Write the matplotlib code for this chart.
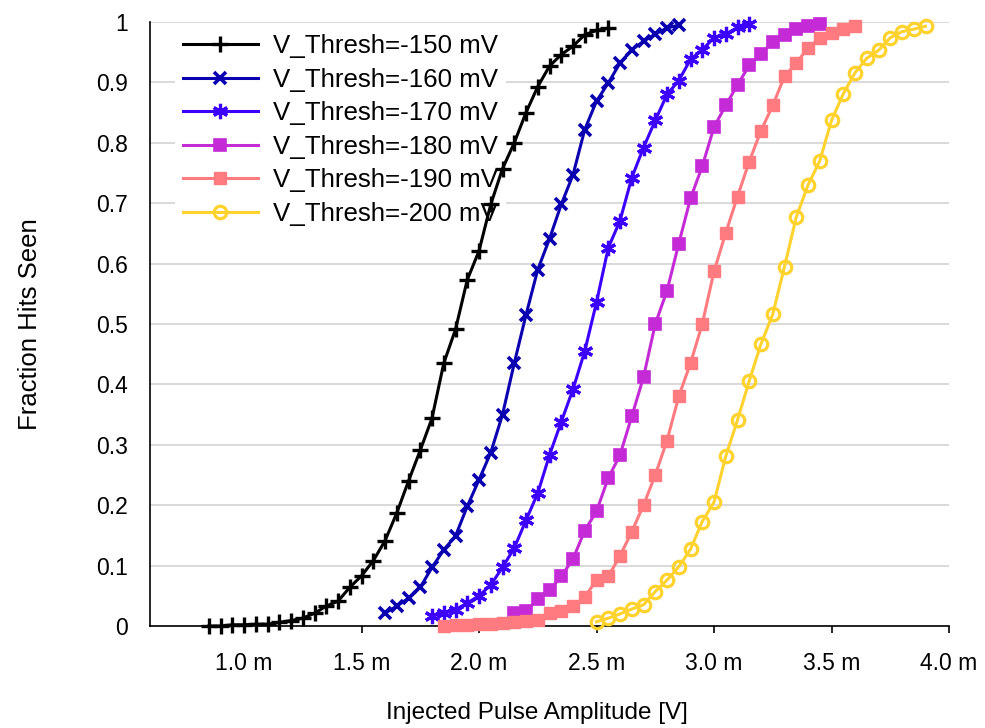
import matplotlib
matplotlib.use("Agg")
import matplotlib.pyplot as plt
from matplotlib.ticker import FuncFormatter

plt.rcParams['font.family'] = ['Liberation Sans', 'DejaVu Sans']

# ---- data (x in mV of injected amplitude, y = fraction of hits seen) ----
labels = ["V_Thresh=-150 mV", "V_Thresh=-160 mV", "V_Thresh=-170 mV",
          "V_Thresh=-180 mV", "V_Thresh=-190 mV", "V_Thresh=-200 mV"]

x150 = [0.85, 0.90, 0.95, 1.00, 1.05, 1.10, 1.15, 1.20, 1.25, 1.30, 1.35, 1.40,
        1.45, 1.50, 1.55, 1.60, 1.65, 1.70, 1.75, 1.80, 1.85, 1.90, 1.95, 2.00,
        2.05, 2.10, 2.15, 2.20, 2.25, 2.30, 2.35, 2.40, 2.45, 2.50, 2.55]
y150 = [0.000, 0.000, 0.002, 0.002, 0.003, 0.003, 0.006, 0.009, 0.013, 0.021,
        0.033, 0.041, 0.064, 0.083, 0.108, 0.141, 0.187, 0.240, 0.291, 0.344,
        0.435, 0.491, 0.573, 0.621, 0.698, 0.757, 0.800, 0.850, 0.893, 0.927,
        0.946, 0.960, 0.979, 0.986, 0.990]

x160 = [1.60, 1.65, 1.70, 1.75, 1.80, 1.85, 1.90, 1.95, 2.00, 2.05, 2.10, 2.15,
        2.20, 2.25, 2.30, 2.35, 2.40, 2.45, 2.50, 2.55, 2.60, 2.65, 2.70, 2.75,
        2.80, 2.85]
y160 = [0.021, 0.033, 0.046, 0.064, 0.097, 0.126, 0.149, 0.198, 0.242, 0.287,
        0.350, 0.435, 0.515, 0.590, 0.641, 0.698, 0.747, 0.822, 0.869, 0.899,
        0.932, 0.954, 0.968, 0.980, 0.990, 0.995]

x170 = [1.80, 1.85, 1.90, 1.95, 2.00, 2.05, 2.10, 2.15, 2.20, 2.25, 2.30, 2.35,
        2.40, 2.45, 2.50, 2.55, 2.60, 2.65, 2.70, 2.75, 2.80, 2.85, 2.90, 2.95,
        3.00, 3.05, 3.10, 3.15]
y170 = [0.017, 0.021, 0.027, 0.038, 0.050, 0.068, 0.097, 0.129, 0.175, 0.220,
        0.283, 0.338, 0.392, 0.455, 0.536, 0.626, 0.671, 0.742, 0.792, 0.837,
        0.880, 0.903, 0.938, 0.954, 0.974, 0.980, 0.991, 0.996]

x180 = [2.15, 2.20, 2.25, 2.30, 2.35, 2.40, 2.45, 2.50, 2.55, 2.60, 2.65, 2.70,
        2.75, 2.80, 2.85, 2.90, 2.95, 3.00, 3.05, 3.10, 3.15, 3.20, 3.25, 3.30,
        3.35, 3.40, 3.45]
y180 = [0.022, 0.025, 0.044, 0.059, 0.082, 0.111, 0.158, 0.190, 0.245, 0.283,
        0.347, 0.412, 0.500, 0.555, 0.633, 0.708, 0.761, 0.826, 0.862, 0.896,
        0.928, 0.947, 0.967, 0.978, 0.989, 0.993, 0.997]

x190 = [1.85, 1.90, 1.95, 2.00, 2.05, 2.10, 2.15, 2.20, 2.25, 2.30, 2.35, 2.40,
        2.45, 2.50, 2.55, 2.60, 2.65, 2.70, 2.75, 2.80, 2.85, 2.90, 2.95, 3.00,
        3.05, 3.10, 3.15, 3.20, 3.25, 3.30, 3.35, 3.40, 3.45, 3.50, 3.55, 3.60]
y190 = [0.000, 0.001, 0.002, 0.003, 0.004, 0.005, 0.006, 0.008, 0.010, 0.021,
        0.025, 0.033, 0.048, 0.076, 0.082, 0.116, 0.156, 0.200, 0.250, 0.307,
        0.380, 0.435, 0.500, 0.587, 0.651, 0.711, 0.769, 0.820, 0.862, 0.910,
        0.932, 0.957, 0.973, 0.982, 0.988, 0.993]

x200 = [2.50, 2.55, 2.60, 2.65, 2.70, 2.75, 2.80, 2.85, 2.90, 2.95, 3.00, 3.05,
        3.10, 3.15, 3.20, 3.25, 3.30, 3.35, 3.40, 3.45, 3.50, 3.55, 3.60, 3.65,
        3.70, 3.75, 3.80, 3.85, 3.90]
y200 = [0.007, 0.013, 0.020, 0.028, 0.035, 0.057, 0.076, 0.098, 0.127, 0.173,
        0.205, 0.281, 0.341, 0.406, 0.467, 0.516, 0.595, 0.677, 0.730, 0.770,
        0.837, 0.881, 0.916, 0.940, 0.953, 0.974, 0.984, 0.988, 0.993]

xs = [x150, x160, x170, x180, x190, x200]
ys = [y150, y160, y170, y180, y190, y200]

x_ticks_mV = [1.0, 1.5, 2.0, 2.5, 3.0, 3.5, 4.0]
y_ticks = [0, 0.1, 0.2, 0.3, 0.4, 0.5, 0.6, 0.7, 0.8, 0.9, 1]

# ---- styles ----
colors = ['#000000', '#0a00b0', '#3c00ff', '#c42bd6', '#ff7b80', '#ffd22e']
styles = [
    dict(marker='+', ms=11, mew=2.4),
    dict(marker='x', ms=8, mew=2.6),
    dict(marker=(6, 2, 0), ms=11, mew=2.3),
    dict(marker='s', ms=8, mew=1.2),
    dict(marker='s', ms=8.5, mew=1.0),
    dict(marker='o', ms=9, mew=2.3, mfc='none'),
]

fig = plt.figure(figsize=(9.85, 7.28), dpi=100)
ax = fig.add_axes([150/985, 1 - 626/728, 799/985, 604/728])

for xv, yv, c, st, lab in zip(xs, ys, colors, styles, labels):
    xv_V = [v * 1e-3 for v in xv]
    kw = dict(st)
    if 'mfc' not in kw:
        kw['mfc'] = c
    ax.plot(xv_V, yv, color=c, lw=2.2, mec=c, label=lab, zorder=3,
            clip_on=False, **kw)

ax.set_xlim(0.6e-3, 4.0e-3)
ax.set_ylim(0, 1)
ax.set_xticks([v * 1e-3 for v in x_ticks_mV])
ax.xaxis.set_major_formatter(FuncFormatter(lambda v, p: f"{v*1e3:.1f} m"))
ax.set_yticks(y_ticks)
ax.yaxis.set_major_formatter(FuncFormatter(lambda v, p: f"{v:g}"))

ax.spines['top'].set_visible(False)
ax.spines['right'].set_visible(False)
ax.spines['left'].set_linewidth(1.2)
ax.spines['bottom'].set_linewidth(1.2)
ax.grid(axis='y', color='#d9d9d9', lw=1.4)
ax.set_axisbelow(True)

ax.tick_params(axis='x', direction='out', length=5, width=1.2, pad=14,
               labelsize=16.5)
ax.tick_params(axis='y', length=0, pad=16, labelsize=16.5)

ax.set_xlabel("Injected Pulse Amplitude [V]", fontsize=17.5)
ax.set_ylabel("Fraction Hits Seen", fontsize=18.5)
ax.xaxis.set_label_coords(0.484, -0.126)
ax.yaxis.set_label_coords(-0.135, 0.5)

leg = ax.legend(loc='upper left', bbox_to_anchor=(0.015, 1.014), fontsize=18.6,
                frameon=True, facecolor='white', edgecolor='none',
                framealpha=1, fancybox=False, handlelength=2.9,
                handletextpad=0.6, labelspacing=0.37, borderpad=0.3)
leg.set_zorder(2.5)

fig.savefig("out.png", dpi=100)
